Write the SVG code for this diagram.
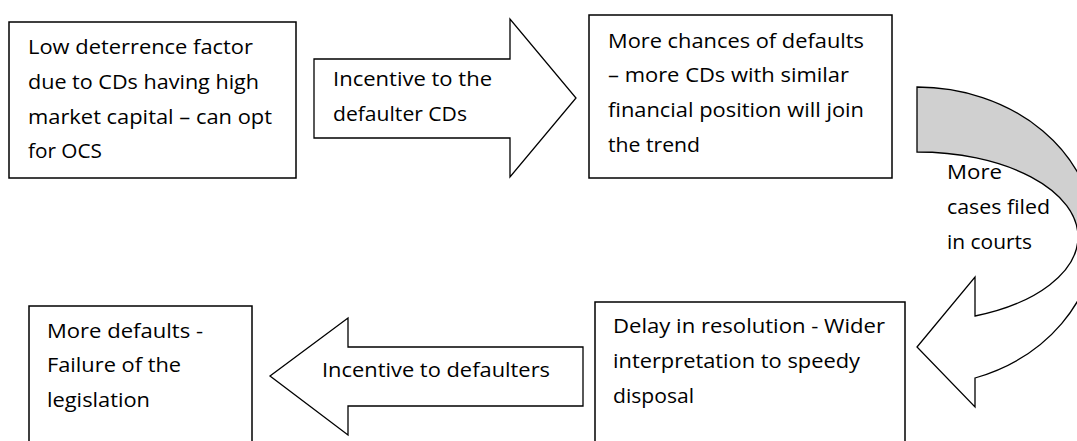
<svg xmlns="http://www.w3.org/2000/svg" width="1077" height="441" viewBox="0 0 1077 441">
<style>
.box{fill:#fff;stroke:#000;stroke-width:1.5}
.arr{fill:#fff;stroke:#000;stroke-width:1.3;stroke-linejoin:miter}
.back{fill:#d0d0d0;stroke:#000;stroke-width:1.3}
text{font-family:"Open Sans","Noto Sans",sans-serif;font-size:20px;fill:#000}
</style>
<rect width="1077" height="441" fill="#fff"/>
<g id="connectors">
<g id="arrow-incentive-cds">
<path class="arr" d="M314,59 L510,59 L510,19 L576,98 L510,177 L510,138 L314,138 Z"/>
<text x="333" y="86" textLength="159" lengthAdjust="spacingAndGlyphs">Incentive to the</text>
<text x="333" y="121" textLength="134" lengthAdjust="spacingAndGlyphs">defaulter CDs</text>
</g>
<g id="arrow-more-cases">
<path class="back" d="M917,87 A178,150 0 0 1 1095,237 L1078,237 A161,85 0 0 0 917,152 Z"/>
<path class="arr" d="M1095,237 A178,150 0 0 1 975,378 L975,407 L917,347 L975,277 L975,316 A161,85 0 0 0 1078,237 Z"/>
<text x="947" y="179" textLength="55" lengthAdjust="spacingAndGlyphs">More</text>
<text x="947" y="214" textLength="103" lengthAdjust="spacingAndGlyphs">cases filed</text>
<text x="947" y="249" textLength="85" lengthAdjust="spacingAndGlyphs">in courts</text>
</g>
<g id="arrow-incentive-defaulters">
<path class="arr" d="M583,347 L348,347 L348,318 L270,376 L348,435 L348,406 L583,406 Z"/>
<text x="322" y="377" textLength="228" lengthAdjust="spacingAndGlyphs">Incentive to defaulters</text>
</g>
</g>
<g id="node-low-deterrence">
<rect class="box" x="9" y="22" width="287" height="156"/>
<text x="28" y="54" textLength="225" lengthAdjust="spacingAndGlyphs">Low deterrence factor</text>
<text x="28" y="89" textLength="231" lengthAdjust="spacingAndGlyphs">due to CDs having high</text>
<text x="28" y="124" textLength="244" lengthAdjust="spacingAndGlyphs">market capital – can opt</text>
<text x="28" y="158" textLength="74" lengthAdjust="spacingAndGlyphs">for OCS</text>
</g>
<g id="node-more-chances">
<rect class="box" x="589" y="15" width="303" height="163"/>
<text x="608" y="48" textLength="256" lengthAdjust="spacingAndGlyphs">More chances of defaults</text>
<text x="608" y="82" textLength="241" lengthAdjust="spacingAndGlyphs">– more CDs with similar</text>
<text x="608" y="117" textLength="256" lengthAdjust="spacingAndGlyphs">financial position will join</text>
<text x="608" y="152" textLength="92" lengthAdjust="spacingAndGlyphs">the trend</text>
</g>
<g id="node-delay">
<rect class="box" x="595" y="302" width="310" height="150"/>
<text x="613" y="333" textLength="272" lengthAdjust="spacingAndGlyphs">Delay in resolution - Wider</text>
<text x="613" y="368" textLength="247" lengthAdjust="spacingAndGlyphs">interpretation to speedy</text>
<text x="613" y="403" textLength="81" lengthAdjust="spacingAndGlyphs">disposal</text>
</g>
<g id="node-more-defaults">
<rect class="box" x="29" y="306" width="223" height="150"/>
<text x="47" y="338" textLength="156" lengthAdjust="spacingAndGlyphs">More defaults -</text>
<text x="47" y="372" textLength="134" lengthAdjust="spacingAndGlyphs">Failure of the</text>
<text x="47" y="407" textLength="103" lengthAdjust="spacingAndGlyphs">legislation</text>
</g>
</svg>
